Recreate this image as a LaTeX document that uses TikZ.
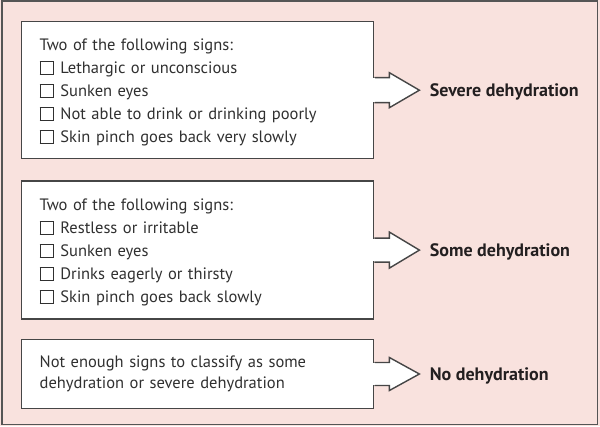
\documentclass[tikz,border=0pt]{standalone}
\usepackage{fontspec}
\setmainfont{PT Sans}
\usetikzlibrary{positioning,calc}

\definecolor{bgpink}{RGB}{249,226,222}
\definecolor{framegray}{RGB}{85,85,85}
\definecolor{boxline}{RGB}{70,70,70}
\definecolor{signtext}{RGB}{48,48,48}
\definecolor{resulttext}{RGB}{35,31,32}

% empty tick box in front of a sign
\newcommand{\tickbox}{{\setlength{\fboxsep}{0pt}\setlength{\fboxrule}{1.1pt}%
  \fbox{\rule{0pt}{11.5pt}\hspace{12.5pt}}}\hspace{6pt}}

\begin{document}
\begin{tikzpicture}[x=1pt, y=1pt, thick,
    sign box/.style={draw=boxline, line width=1.4pt, fill=white, align=left,
      text width=316pt, inner xsep=18pt, inner ysep=0pt, text=signtext,
      font=\fontsize{16.5}{23}\selectfont},
    result/.style={font=\fontsize{18}{22}\selectfont\bfseries, text=resulttext,
      inner sep=0pt},
    block arrow/.style={draw=boxline, line width=1.4pt, fill=white, line join=miter}]

  \useasboundingbox (0,0) rectangle (600,426);
  \fill[bgpink] (0,0) rectangle (600,426);
  \draw[framegray, line width=1.5pt] (2,1.5) rectangle (597.5,425);

  \node[sign box, minimum height=137pt, anchor=north west] (severe) at (21,405)
    {\rule{0pt}{17pt}Two of the following signs:\\
     \tickbox Lethargic or unconscious\\
     \tickbox Sunken eyes\\
     \tickbox Not able to drink or drinking poorly\\
     \tickbox Skin pinch goes back very slowly};
  \node[sign box, minimum height=138pt, below=21pt of severe] (some)
    {\rule{0pt}{17pt}Two of the following signs:\\
     \tickbox Restless or irritable\\
     \tickbox Sunken eyes\\
     \tickbox Drinks eagerly or thirsty\\
     \tickbox Skin pinch goes back slowly};
  \node[sign box, minimum height=69pt, below=19pt of some,
        font=\fontsize{16.5}{21}\selectfont] (none)
    {Not enough signs to classify as some\\
     dehydration or severe dehydration};

  % block arrows, stem opens into the box
  \draw[block arrow] ([yshift=12.5pt]severe.east) -- ++(15,0) -- ++(0,5)
    -- ++(30,-17.5) coordinate (tip1) -- ++(-30,-17.5) -- ++(0,5)
    -- ([yshift=-12.5pt]severe.east);
  \fill[white] ([xshift=-2pt,yshift=11.8pt]severe.east) rectangle ([xshift=1pt,yshift=-11.8pt]severe.east);

  \draw[block arrow] ([yshift=12pt]some.east) -- ++(15,0) -- ++(0,6)
    -- ++(30,-18) coordinate (tip2) -- ++(-30,-18) -- ++(0,6)
    -- ([yshift=-12pt]some.east);
  \fill[white] ([xshift=-2pt,yshift=11.3pt]some.east) rectangle ([xshift=1pt,yshift=-11.3pt]some.east);

  \draw[block arrow] ([yshift=11.5pt]none.east) -- ++(15,0) -- ++(0,5)
    -- ++(30,-16.5) coordinate (tip3) -- ++(-30,-16.5) -- ++(0,5)
    -- ([yshift=-11.5pt]none.east);
  \fill[white] ([xshift=-2pt,yshift=10.8pt]none.east) rectangle ([xshift=1pt,yshift=-10.8pt]none.east);

  \node[result, anchor=base west] (severe lbl) at ($(tip1)+(10,-6.5)$) {Severe dehydration};
  \node[result, anchor=base west] (some lbl) at ($(tip2)+(10,-6.5)$) {Some dehydration};
  \node[result, anchor=base west] (none lbl) at ($(tip3)+(10,-6.5)$) {No dehydration};
\end{tikzpicture}
\end{document}
